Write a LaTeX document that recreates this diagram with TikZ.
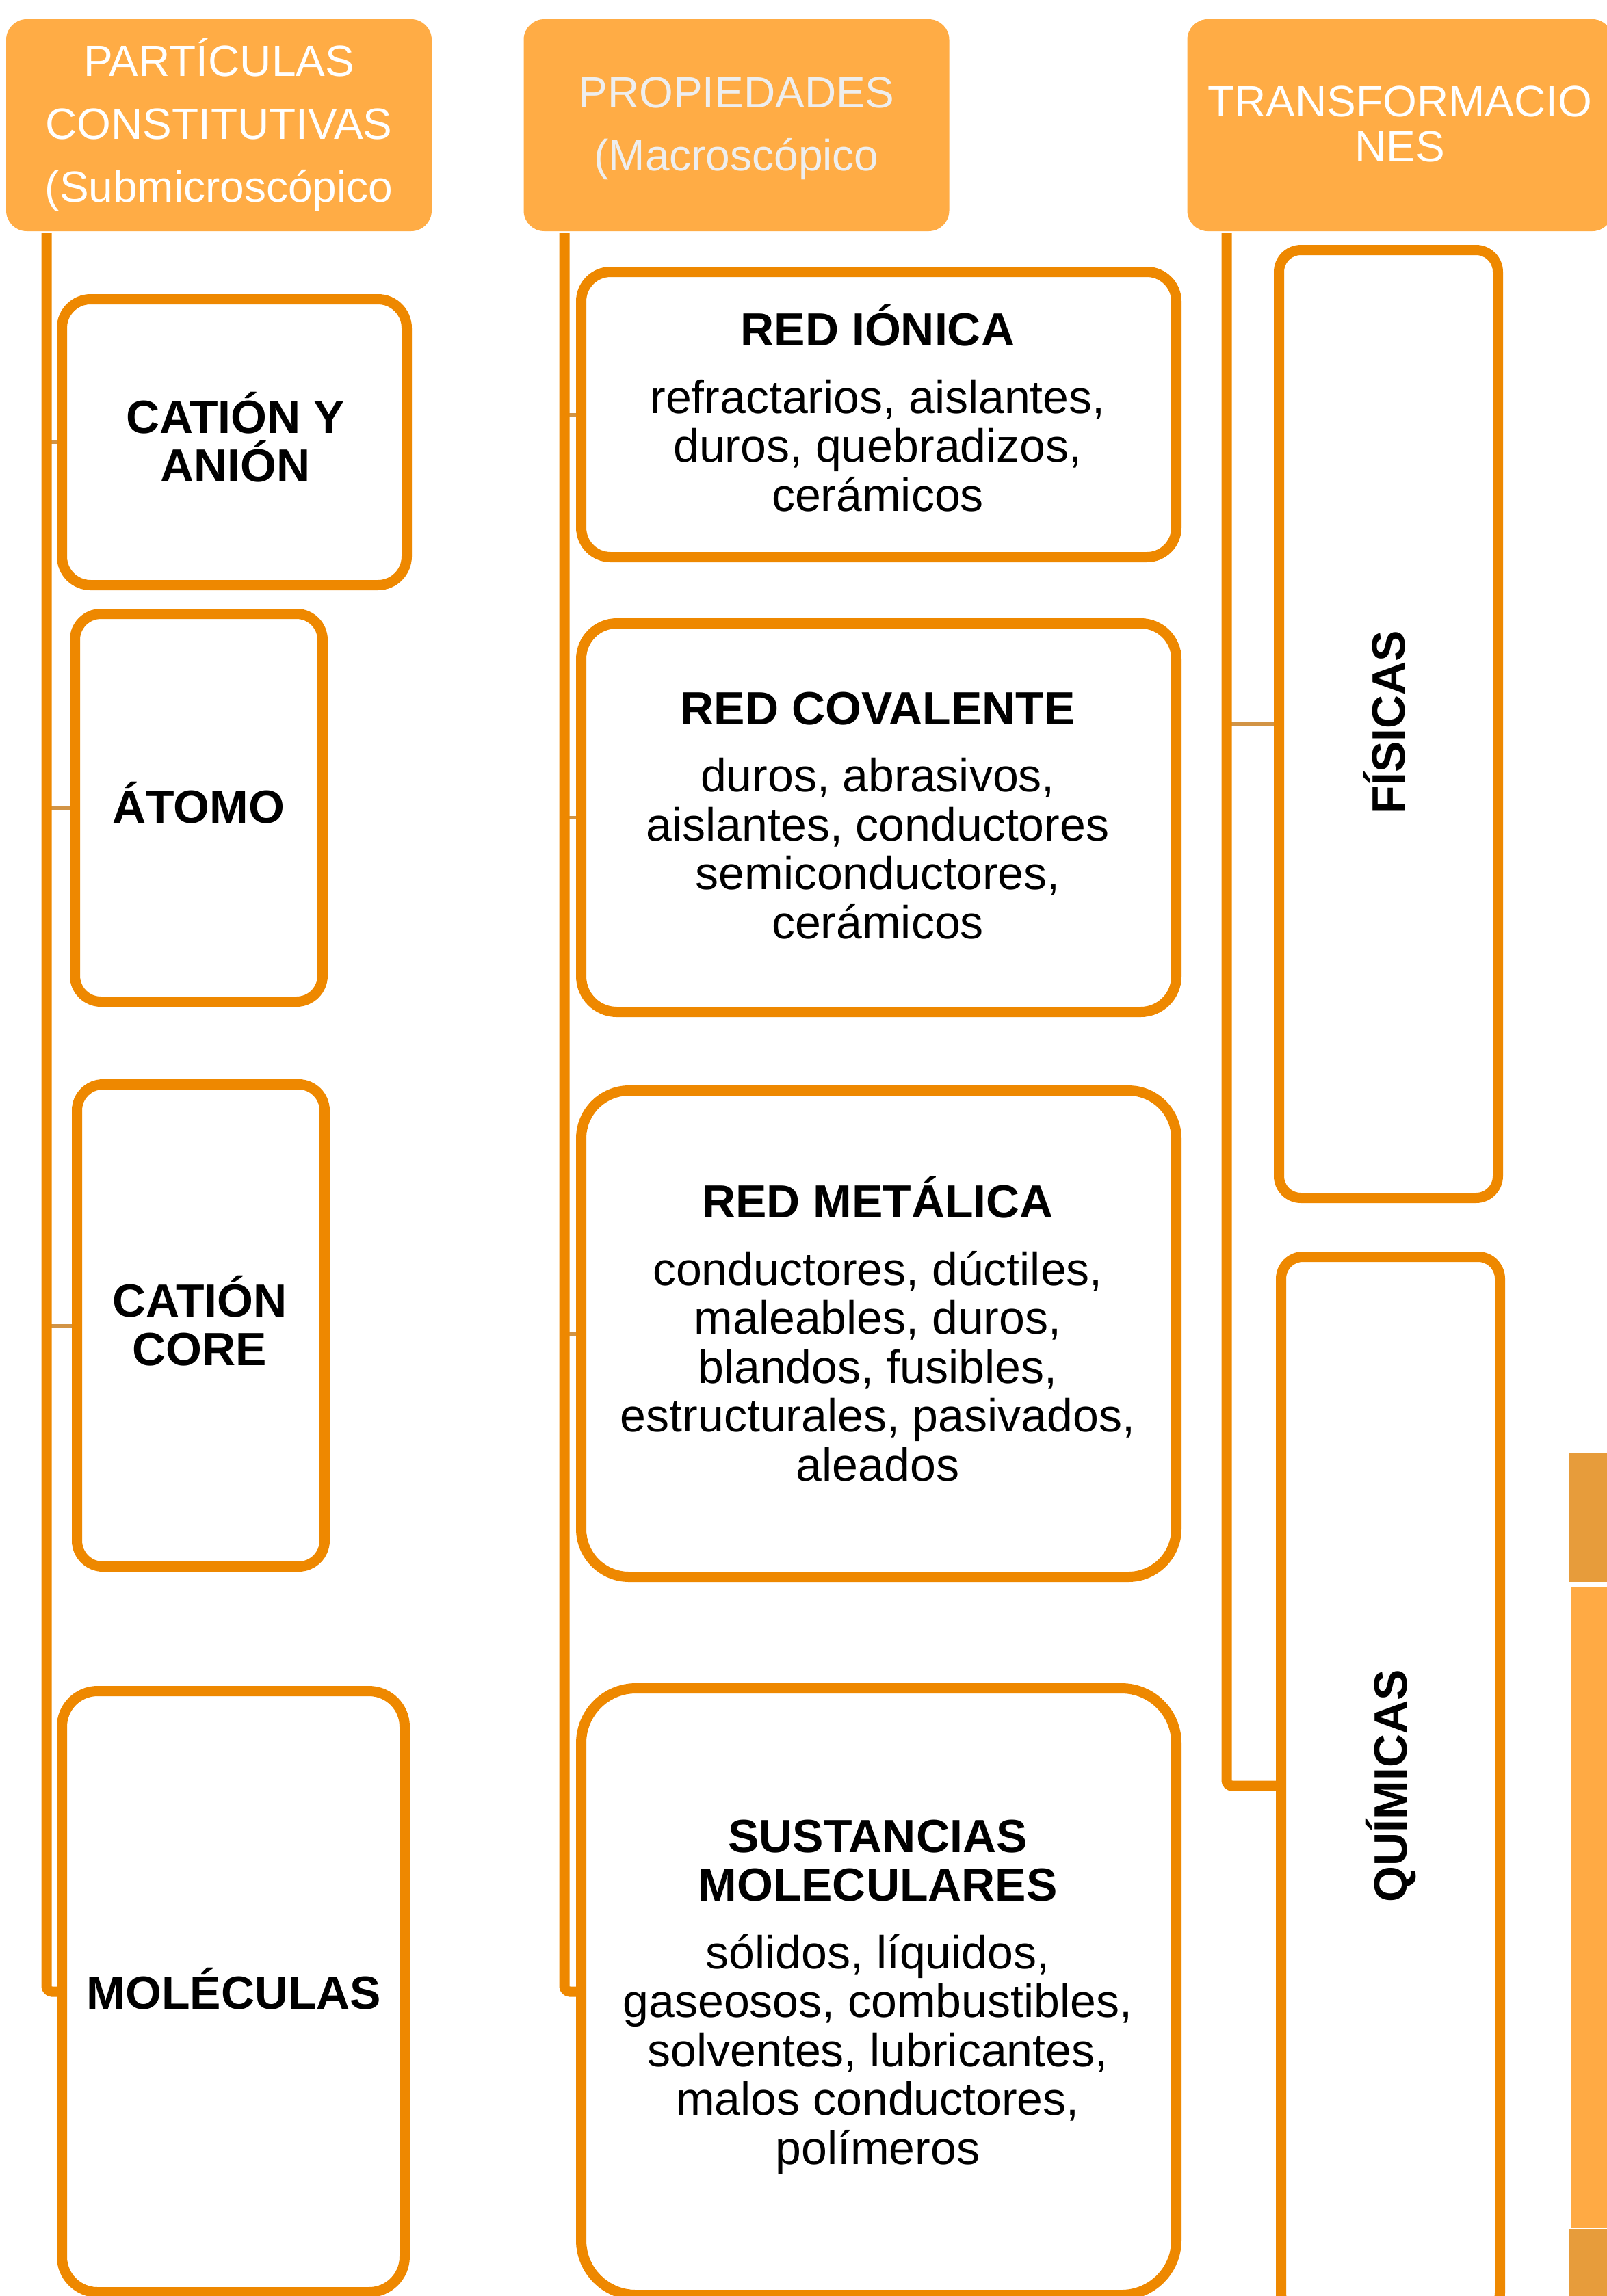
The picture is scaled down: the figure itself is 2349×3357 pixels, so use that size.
\documentclass[tikz,border=0pt]{standalone}
\usepackage{fontspec}
\setmainfont{Liberation Sans}
\usetikzlibrary{backgrounds}
\definecolor{hdrfill}{HTML}{FFAC45}
\definecolor{boxline}{HTML}{EE8800}
\definecolor{tickcol}{HTML}{D29445}
\definecolor{hdrgrey}{HTML}{EEEEEE}
\definecolor{decdark}{HTML}{E79C3B}
\definecolor{declight}{HTML}{FFAA44}
\tikzset{
  hdr/.style={fill=hdrfill, rounded corners=30pt, inner sep=0pt, minimum width=622pt, minimum height=310pt},
  hdrtxt/.style={text=white, font=\fontsize{64}{92}\selectfont, align=center, anchor=base, inner sep=0pt},
  obox/.style={draw=boxline, line width=15pt, fill=white, inner sep=0pt},
  ttl/.style={font=\fontsize{68}{71}\selectfont\bfseries, align=center, anchor=base, inner sep=0pt},
  bodytxt/.style={font=\fontsize{68}{71.5}\selectfont, align=center, anchor=base, inner sep=0pt},
  spine/.style={draw=boxline, line width=15pt, rounded corners=8pt},
  tick/.style={draw=tickcol, line width=5pt},
}
\begin{document}
\begin{tikzpicture}[x=1pt,y=-1pt]
\useasboundingbox (0,0) rectangle (2349,3357);
\clip (0,0) rectangle (2349,3357);

% headers
\node[hdr] (H1) at (320,183) {};
\node[hdr] (H2) at (1076.5,183) {};
\node[hdr] (H3) at (2046.5,183) {};
\node[hdrtxt] (H1t) at (320,295) {PARTÍCULAS\\CONSTITUTIVAS\\(Submicroscópico};
\node[hdrtxt, text=hdrgrey] (H2t) at (1076.5,249) {PROPIEDADES\\(Macroscópico};
\node[hdrtxt, font=\fontsize{64}{66}\selectfont] (H3t) at (2046.5,236) {TRANSFORMACIO\\NES};

% column 1 boxes
\node[obox, rounded corners=42pt, minimum width=504pt, minimum height=418pt] (B1) at (342.5,646.5) {};
\node[obox, rounded corners=38pt, minimum width=362pt, minimum height=567pt] (B2) at (290.5,1181) {};
\node[obox, rounded corners=38pt, minimum width=362pt, minimum height=705pt] (B3) at (293.5,1938) {};
\node[obox, rounded corners=52pt, minimum width=501pt, minimum height=879pt] (B4) at (341,2912) {};
\node[ttl] (B1t) at (344,704) {CATIÓN Y\\ANIÓN};
\node[ttl] (B2t) at (290,1203) {ÁTOMO};
\node[ttl] (B3t) at (292,1996) {CATIÓN\\CORE};
\node[ttl] (B4t) at (342,2937) {MOLÉCULAS};

% column 2 boxes
\node[obox, rounded corners=43pt, minimum width=870pt, minimum height=417pt] (C1) at (1284.5,606) {};
\node[obox, rounded corners=52pt, minimum width=870pt, minimum height=568pt] (C2) at (1284.5,1195.5) {};
\node[obox, rounded corners=70pt, minimum width=870pt, minimum height=711pt] (C3) at (1284.5,1950) {};
\node[obox, rounded corners=80pt, minimum width=870pt, minimum height=887pt] (C4) at (1284.5,2912) {};
\node[bodytxt] (C1t) at (1283,747) {\textbf{RED IÓNICA}\\[27pt]refractarios, aislantes,\\duros, quebradizos,\\cerámicos};
\node[bodytxt] (C2t) at (1283,1372) {\textbf{RED COVALENTE}\\[27pt]duros, abrasivos,\\aislantes, conductores\\semiconductores,\\cerámicos};
\node[bodytxt] (C3t) at (1283,2165) {\textbf{RED METÁLICA}\\[27pt]conductores, dúctiles,\\maleables, duros,\\blandos, fusibles,\\estructurales, pasivados,\\aleados};
\node[bodytxt] (C4t) at (1283,3164) {\textbf{SUSTANCIAS}\\\textbf{MOLECULARES}\\[27pt]sólidos, líquidos,\\gaseosos, combustibles,\\solventes, lubricantes,\\malos conductores,\\polímeros};

% column 3 boxes
\node[obox, rounded corners=32pt, minimum width=320pt, minimum height=1386pt] (D1) at (2029.5,1058.5) {};
\node[obox, rounded corners=32pt, minimum width=320pt, minimum height=1547pt] (D2) at (2032.5,2611) {};
\node[ttl, rotate=90] (D1t) at (2053,1056) {FÍSICAS};
\node[ttl, rotate=90] (D2t) at (2056,2611) {QUÍMICAS};

% spines, ticks and side strips behind the boxes
\begin{pgfonlayer}{background}
\coordinate (s1) at (68,340);
\coordinate (s2) at (825,340);
\coordinate (s3) at (1793,340);
\draw[tick] (s1 |- B1.west) -- (B1.west);
\draw[tick] (s1 |- B2.west) -- (B2.west);
\draw[tick] (s1 |- B3.west) -- (B3.west);
\draw[tick] (s2 |- C1.west) -- (C1.west);
\draw[tick] (s2 |- C2.west) -- (C2.west);
\draw[tick] (s2 |- C3.west) -- (C3.west);
\draw[tick] (s3 |- D1.west) -- (D1.west);
\draw[spine] (s1) |- (B4.west);
\draw[spine] (s2) |- (C4.west);
\draw[spine] (s3) |- (D2.west);
\fill[decdark] (2293,2124) rectangle (2349,2313);
\fill[declight] (2296,2320) rectangle (2349,3258);
\fill[decdark] (2293,3259) rectangle (2349,3357);
\end{pgfonlayer}
\end{tikzpicture}
\end{document}
